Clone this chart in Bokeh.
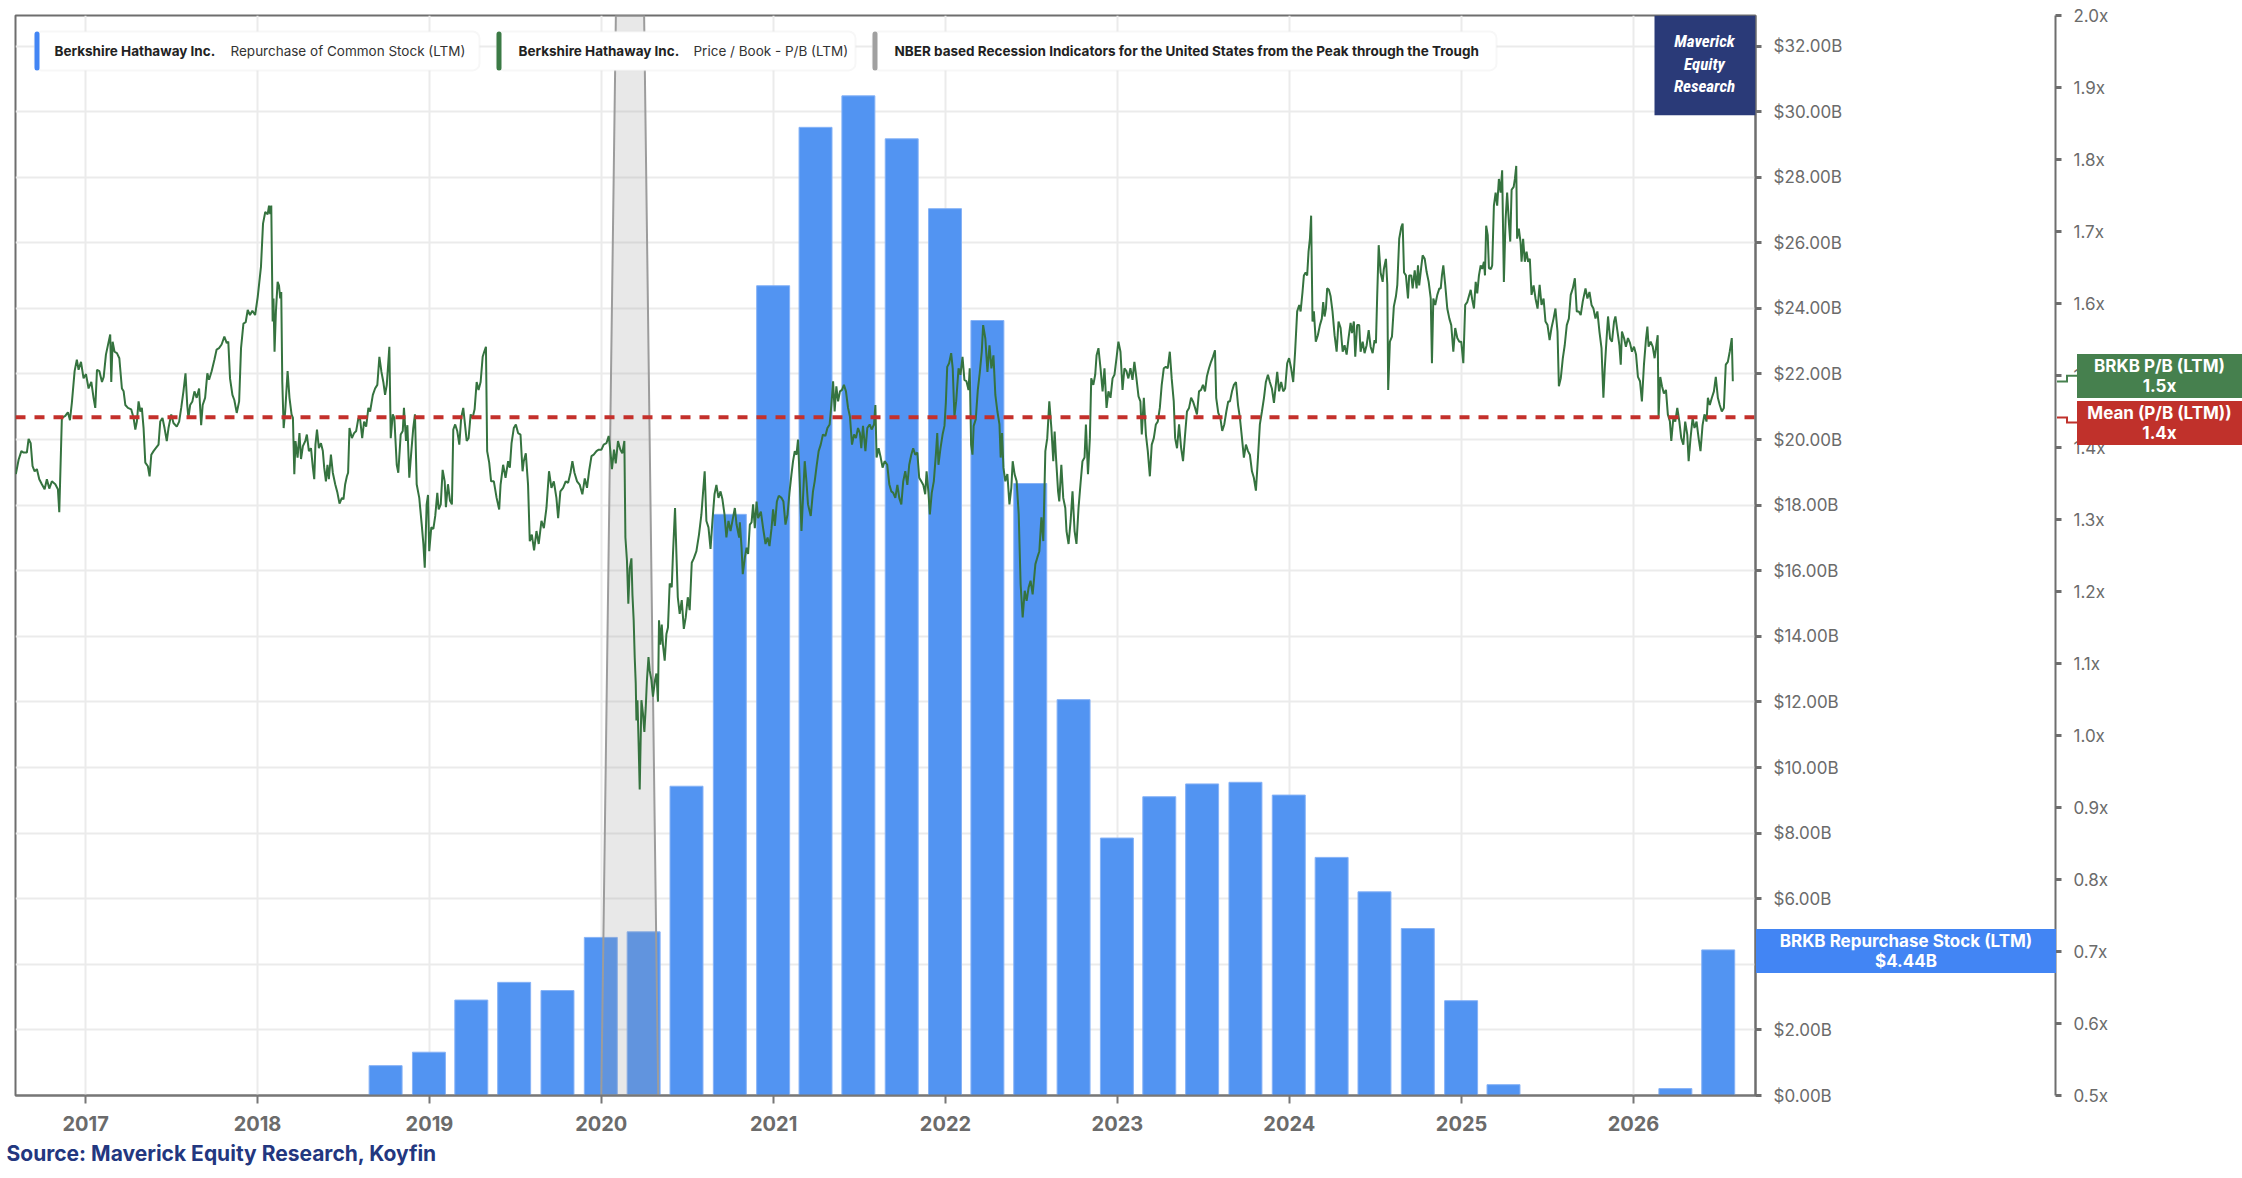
import numpy as np
import pandas as pd
from bokeh.plotting import figure
from bokeh.models import (Range1d, LinearAxis, FixedTicker, PrintfTickFormatter,
                          DatetimeTickFormatter, BoxAnnotation, Label, Title, GridBox, Div)
from bokeh.embed import file_html
from bokeh.resources import INLINE

# LTM repurchase of common stock, $B, per quarter end
quarter_ends = ["2018-09-30", "2018-12-31", "2019-03-31", "2019-06-30", "2019-09-30", "2019-12-31",
                "2020-03-31", "2020-06-30", "2020-09-30", "2020-12-31", "2021-03-31", "2021-06-30",
                "2021-09-30", "2021-12-31", "2022-03-31", "2022-06-30", "2022-09-30", "2022-12-31",
                "2023-03-31", "2023-06-30", "2023-09-30", "2023-12-31", "2024-03-31", "2024-06-30",
                "2024-09-30", "2024-12-31", "2025-03-31", "2025-06-30", "2025-09-30", "2025-12-31",
                "2026-03-31", "2026-06-30"]
repurchase_b = [0.91, 1.32, 2.91, 3.45, 3.20, 4.82,
                4.99, 9.43, 17.72, 24.69, 29.52, 30.48,
                29.17, 27.04, 23.63, 18.66, 12.07, 7.85,
                9.11, 9.50, 9.55, 9.16, 7.26, 6.21,
                5.09, 2.89, 0.33, 0.0, 0.0, 0.0,
                0.21, 4.44]

# Price / Book (LTM): (decimal year, ratio)
pb_series = [
    (2016.595, 1.363), (2016.611, 1.383), (2016.627, 1.395), (2016.640, 1.393), (2016.659, 1.393), (2016.669, 1.412),
    (2016.681, 1.406), (2016.692, 1.374), (2016.704, 1.367), (2016.717, 1.370), (2016.731, 1.356), (2016.746, 1.349),
    (2016.762, 1.342), (2016.775, 1.356), (2016.789, 1.343), (2016.804, 1.353), (2016.824, 1.349), (2016.839, 1.342),
    (2016.847, 1.310), (2016.862, 1.441), (2016.882, 1.444), (2016.897, 1.449), (2016.909, 1.438), (2016.920, 1.462),
    (2016.936, 1.506), (2016.949, 1.522), (2016.959, 1.508), (2016.973, 1.519), (2016.988, 1.496), (2017.002, 1.502),
    (2017.017, 1.482), (2017.033, 1.491), (2017.046, 1.469), (2017.056, 1.455), (2017.066, 1.508), (2017.080, 1.506),
    (2017.095, 1.491), (2017.105, 1.498), (2017.118, 1.529), (2017.134, 1.547), (2017.143, 1.557), (2017.149, 1.491),
    (2017.157, 1.547), (2017.168, 1.533), (2017.182, 1.531), (2017.196, 1.524), (2017.211, 1.482), (2017.221, 1.478),
    (2017.231, 1.459), (2017.246, 1.455), (2017.265, 1.453), (2017.279, 1.441), (2017.289, 1.425), (2017.298, 1.436),
    (2017.308, 1.464), (2017.318, 1.450), (2017.327, 1.455), (2017.337, 1.427), (2017.347, 1.379), (2017.362, 1.374),
    (2017.372, 1.360), (2017.382, 1.390), (2017.395, 1.395), (2017.408, 1.399), (2017.424, 1.404), (2017.434, 1.436),
    (2017.447, 1.441), (2017.459, 1.427), (2017.472, 1.409), (2017.482, 1.427), (2017.498, 1.446), (2017.511, 1.434),
    (2017.530, 1.429), (2017.544, 1.436), (2017.556, 1.455), (2017.569, 1.478), (2017.581, 1.503), (2017.591, 1.459),
    (2017.598, 1.441), (2017.608, 1.459), (2017.621, 1.464), (2017.633, 1.478), (2017.646, 1.469), (2017.660, 1.482),
    (2017.672, 1.431), (2017.681, 1.459), (2017.695, 1.469), (2017.708, 1.503), (2017.718, 1.494), (2017.733, 1.506),
    (2017.749, 1.522), (2017.762, 1.536), (2017.776, 1.538), (2017.791, 1.543), (2017.807, 1.554), (2017.821, 1.545),
    (2017.830, 1.547), (2017.840, 1.496), (2017.854, 1.473), (2017.865, 1.466), (2017.879, 1.448), (2017.893, 1.464),
    (2017.904, 1.538), (2017.918, 1.572), (2017.931, 1.574), (2017.943, 1.591), (2017.956, 1.584), (2017.970, 1.590),
    (2017.986, 1.584), (2018.001, 1.609), (2018.020, 1.651), (2018.032, 1.711), (2018.045, 1.727), (2018.059, 1.724),
    (2018.067, 1.736), (2018.074, 1.724), (2018.080, 1.736), (2018.088, 1.575), (2018.093, 1.607), (2018.099, 1.533),
    (2018.107, 1.589), (2018.117, 1.630), (2018.125, 1.625), (2018.132, 1.607), (2018.138, 1.616), (2018.144, 1.492),
    (2018.152, 1.427), (2018.161, 1.450), (2018.175, 1.506), (2018.186, 1.469), (2018.198, 1.446), (2018.206, 1.441),
    (2018.214, 1.363), (2018.221, 1.409), (2018.233, 1.386), (2018.244, 1.420), (2018.253, 1.384), (2018.264, 1.402),
    (2018.278, 1.409), (2018.287, 1.418), (2018.299, 1.395), (2018.311, 1.399), (2018.322, 1.372), (2018.330, 1.356),
    (2018.337, 1.404), (2018.346, 1.425), (2018.357, 1.399), (2018.369, 1.406), (2018.380, 1.395), (2018.388, 1.372),
    (2018.398, 1.353), (2018.407, 1.376), (2018.415, 1.356), (2018.427, 1.390), (2018.438, 1.365), (2018.452, 1.349),
    (2018.465, 1.337), (2018.477, 1.322), (2018.491, 1.330), (2018.500, 1.328), (2018.510, 1.349), (2018.520, 1.360),
    (2018.527, 1.365), (2018.535, 1.427), (2018.549, 1.413), (2018.562, 1.420), (2018.574, 1.423), (2018.587, 1.441),
    (2018.597, 1.439), (2018.609, 1.413), (2018.620, 1.436), (2018.632, 1.429), (2018.645, 1.455), (2018.655, 1.450),
    (2018.671, 1.473), (2018.684, 1.482), (2018.697, 1.487), (2018.709, 1.526), (2018.721, 1.505), (2018.732, 1.491),
    (2018.742, 1.473), (2018.752, 1.487), (2018.767, 1.540), (2018.775, 1.413), (2018.787, 1.446), (2018.796, 1.441),
    (2018.810, 1.376), (2018.819, 1.365), (2018.833, 1.418), (2018.845, 1.423), (2018.852, 1.455), (2018.864, 1.409),
    (2018.872, 1.431), (2018.883, 1.358), (2018.895, 1.395), (2018.906, 1.427), (2018.916, 1.446), (2018.926, 1.349),
    (2018.941, 1.330), (2018.955, 1.294), (2018.965, 1.266), (2018.973, 1.233), (2018.984, 1.321), (2018.992, 1.334),
    (2018.999, 1.256), (2019.011, 1.289), (2019.023, 1.287), (2019.034, 1.305), (2019.046, 1.337), (2019.054, 1.314),
    (2019.066, 1.321), (2019.077, 1.369), (2019.089, 1.353), (2019.096, 1.317), (2019.108, 1.349), (2019.120, 1.326),
    (2019.131, 1.321), (2019.139, 1.425), (2019.150, 1.432), (2019.162, 1.423), (2019.174, 1.404), (2019.185, 1.441),
    (2019.197, 1.455), (2019.207, 1.432), (2019.217, 1.409), (2019.228, 1.413), (2019.240, 1.446), (2019.251, 1.441),
    (2019.263, 1.453), (2019.275, 1.491), (2019.286, 1.480), (2019.298, 1.491), (2019.310, 1.526), (2019.319, 1.533),
    (2019.329, 1.540), (2019.336, 1.395), (2019.348, 1.379), (2019.359, 1.353), (2019.375, 1.353), (2019.391, 1.330),
    (2019.406, 1.314), (2019.414, 1.348), (2019.429, 1.376), (2019.443, 1.358), (2019.458, 1.381), (2019.468, 1.372),
    (2019.478, 1.406), (2019.491, 1.427), (2019.503, 1.432), (2019.516, 1.420), (2019.530, 1.418), (2019.542, 1.367),
    (2019.549, 1.381), (2019.561, 1.392), (2019.574, 1.348), (2019.584, 1.270), (2019.596, 1.279), (2019.609, 1.257),
    (2019.623, 1.284), (2019.636, 1.266), (2019.652, 1.298), (2019.666, 1.288), (2019.681, 1.316), (2019.696, 1.367),
    (2019.710, 1.344), (2019.724, 1.353), (2019.739, 1.330), (2019.749, 1.302), (2019.762, 1.339), (2019.778, 1.344),
    (2019.793, 1.353), (2019.807, 1.351), (2019.821, 1.365), (2019.832, 1.381), (2019.844, 1.365), (2019.859, 1.353),
    (2019.875, 1.348), (2019.890, 1.335), (2019.904, 1.357), (2019.917, 1.344), (2019.929, 1.367), (2019.943, 1.388),
    (2019.956, 1.390), (2019.972, 1.395), (2019.985, 1.397), (2020.001, 1.397), (2020.014, 1.404), (2020.030, 1.406),
    (2020.043, 1.416), (2020.053, 1.395), (2020.062, 1.370), (2020.074, 1.397), (2020.084, 1.378), (2020.097, 1.409),
    (2020.111, 1.397), (2020.122, 1.392), (2020.134, 1.409), (2020.140, 1.275), (2020.149, 1.243), (2020.157, 1.183),
    (2020.165, 1.232), (2020.175, 1.246), (2020.181, 1.195), (2020.188, 1.160), (2020.194, 1.109), (2020.200, 1.072),
    (2020.204, 1.021), (2020.210, 1.049), (2020.217, 0.985), (2020.223, 0.925), (2020.233, 1.049), (2020.242, 1.030),
    (2020.250, 1.005), (2020.258, 1.039), (2020.265, 1.077), (2020.274, 1.109), (2020.281, 1.090), (2020.291, 1.077),
    (2020.300, 1.054), (2020.312, 1.077), (2020.320, 1.086), (2020.329, 1.047), (2020.335, 1.160), (2020.343, 1.126),
    (2020.351, 1.154), (2020.358, 1.126), (2020.368, 1.104), (2020.378, 1.141), (2020.387, 1.150), (2020.397, 1.211),
    (2020.409, 1.206), (2020.416, 1.252), (2020.428, 1.316), (2020.436, 1.252), (2020.444, 1.192), (2020.455, 1.169),
    (2020.467, 1.188), (2020.479, 1.148), (2020.490, 1.164), (2020.502, 1.192), (2020.513, 1.174), (2020.525, 1.240),
    (2020.537, 1.246), (2020.552, 1.256), (2020.567, 1.279), (2020.581, 1.307), (2020.591, 1.339), (2020.600, 1.367),
    (2020.610, 1.298), (2020.622, 1.289), (2020.634, 1.259), (2020.645, 1.298), (2020.657, 1.335), (2020.668, 1.348),
    (2020.680, 1.330), (2020.692, 1.339), (2020.703, 1.328), (2020.715, 1.307), (2020.726, 1.275), (2020.738, 1.298),
    (2020.750, 1.284), (2020.761, 1.298), (2020.775, 1.316), (2020.785, 1.293), (2020.800, 1.275), (2020.804, 1.296),
    (2020.814, 1.261), (2020.821, 1.224), (2020.833, 1.247), (2020.843, 1.261), (2020.852, 1.252), (2020.862, 1.293),
    (2020.872, 1.296), (2020.881, 1.321), (2020.891, 1.288), (2020.901, 1.325), (2020.910, 1.302), (2020.926, 1.311),
    (2020.939, 1.288), (2020.953, 1.266), (2020.965, 1.275), (2020.976, 1.263), (2020.988, 1.288), (2020.997, 1.314),
    (2021.007, 1.291), (2021.019, 1.325), (2021.030, 1.333), (2021.046, 1.330), (2021.057, 1.325), (2021.069, 1.293),
    (2021.081, 1.307), (2021.092, 1.337), (2021.104, 1.363), (2021.113, 1.381), (2021.123, 1.395), (2021.133, 1.390),
    (2021.142, 1.411), (2021.152, 1.353), (2021.162, 1.284), (2021.171, 1.330), (2021.181, 1.381), (2021.191, 1.353),
    (2021.200, 1.321), (2021.216, 1.305), (2021.229, 1.339), (2021.239, 1.353), (2021.251, 1.376), (2021.262, 1.395),
    (2021.274, 1.404), (2021.287, 1.418), (2021.301, 1.416), (2021.313, 1.427), (2021.326, 1.432), (2021.336, 1.459),
    (2021.346, 1.492), (2021.355, 1.450), (2021.365, 1.485), (2021.375, 1.464), (2021.386, 1.478), (2021.398, 1.480),
    (2021.409, 1.487), (2021.421, 1.478), (2021.433, 1.455), (2021.444, 1.443), (2021.456, 1.404), (2021.468, 1.418),
    (2021.479, 1.413), (2021.491, 1.427), (2021.502, 1.420), (2021.510, 1.399), (2021.520, 1.430), (2021.534, 1.395),
    (2021.545, 1.427), (2021.559, 1.432), (2021.570, 1.425), (2021.584, 1.432), (2021.592, 1.459), (2021.599, 1.386),
    (2021.611, 1.399), (2021.623, 1.386), (2021.634, 1.372), (2021.646, 1.381), (2021.661, 1.376), (2021.673, 1.349),
    (2021.685, 1.339), (2021.696, 1.337), (2021.708, 1.330), (2021.720, 1.348), (2021.731, 1.330), (2021.743, 1.321),
    (2021.754, 1.353), (2021.766, 1.367), (2021.778, 1.348), (2021.789, 1.376), (2021.801, 1.390), (2021.812, 1.399),
    (2021.824, 1.390), (2021.836, 1.393), (2021.847, 1.358), (2021.859, 1.353), (2021.871, 1.348), (2021.882, 1.335),
    (2021.890, 1.367), (2021.901, 1.337), (2021.909, 1.307), (2021.920, 1.337), (2021.932, 1.353), (2021.944, 1.390),
    (2021.952, 1.420), (2021.959, 1.376), (2021.971, 1.399), (2021.983, 1.418), (2021.994, 1.430), (2022.002, 1.462),
    (2022.010, 1.512), (2022.021, 1.517), (2022.033, 1.531), (2022.042, 1.510), (2022.052, 1.443), (2022.062, 1.464),
    (2022.076, 1.510), (2022.087, 1.501), (2022.099, 1.526), (2022.110, 1.494), (2022.122, 1.492), (2022.134, 1.480),
    (2022.141, 1.510), (2022.149, 1.404), (2022.157, 1.390), (2022.164, 1.430), (2022.176, 1.439), (2022.188, 1.480),
    (2022.199, 1.503), (2022.211, 1.533), (2022.219, 1.570), (2022.232, 1.551), (2022.244, 1.505), (2022.256, 1.542),
    (2022.267, 1.510), (2022.279, 1.528), (2022.290, 1.473), (2022.302, 1.450), (2022.314, 1.432), (2022.321, 1.386),
    (2022.329, 1.420), (2022.337, 1.372), (2022.348, 1.353), (2022.360, 1.363), (2022.372, 1.321), (2022.383, 1.344),
    (2022.391, 1.381), (2022.402, 1.363), (2022.414, 1.353), (2022.426, 1.307), (2022.437, 1.210), (2022.449, 1.164),
    (2022.461, 1.201), (2022.472, 1.187), (2022.484, 1.206), (2022.495, 1.215), (2022.507, 1.196), (2022.523, 1.238),
    (2022.534, 1.247), (2022.546, 1.256), (2022.558, 1.303), (2022.569, 1.270), (2022.581, 1.395), (2022.592, 1.413),
    (2022.604, 1.464), (2022.616, 1.427), (2022.627, 1.381), (2022.635, 1.422), (2022.643, 1.386), (2022.655, 1.339),
    (2022.662, 1.325), (2022.674, 1.376), (2022.685, 1.330), (2022.697, 1.316), (2022.704, 1.284), (2022.716, 1.266),
    (2022.728, 1.298), (2022.739, 1.339), (2022.751, 1.284), (2022.762, 1.266), (2022.774, 1.316), (2022.786, 1.351),
    (2022.797, 1.381), (2022.809, 1.386), (2022.817, 1.432), (2022.829, 1.363), (2022.840, 1.413), (2022.848, 1.496),
    (2022.860, 1.487), (2022.871, 1.501), (2022.879, 1.528), (2022.890, 1.538), (2022.902, 1.510), (2022.914, 1.478),
    (2022.925, 1.510), (2022.937, 1.455), (2022.948, 1.478), (2022.960, 1.469), (2022.972, 1.496), (2022.983, 1.501),
    (2022.995, 1.524), (2023.006, 1.547), (2023.018, 1.533), (2023.030, 1.480), (2023.041, 1.510), (2023.053, 1.506),
    (2023.064, 1.496), (2023.076, 1.510), (2023.088, 1.494), (2023.099, 1.519), (2023.111, 1.496), (2023.123, 1.471),
    (2023.134, 1.464), (2023.142, 1.418), (2023.154, 1.469), (2023.166, 1.418), (2023.177, 1.395), (2023.189, 1.360),
    (2023.200, 1.404), (2023.212, 1.413), (2023.224, 1.432), (2023.235, 1.436), (2023.247, 1.455), (2023.258, 1.487),
    (2023.270, 1.510), (2023.282, 1.512), (2023.293, 1.510), (2023.305, 1.533), (2023.316, 1.496), (2023.328, 1.464),
    (2023.336, 1.413), (2023.347, 1.399), (2023.359, 1.432), (2023.371, 1.399), (2023.382, 1.381), (2023.394, 1.418),
    (2023.405, 1.450), (2023.417, 1.455), (2023.429, 1.469), (2023.440, 1.464), (2023.452, 1.455), (2023.463, 1.446),
    (2023.475, 1.478), (2023.487, 1.480), (2023.498, 1.487), (2023.510, 1.478), (2023.521, 1.499), (2023.533, 1.510),
    (2023.545, 1.519), (2023.556, 1.526), (2023.568, 1.535), (2023.575, 1.469), (2023.587, 1.448), (2023.599, 1.441),
    (2023.610, 1.423), (2023.622, 1.432), (2023.634, 1.450), (2023.645, 1.464), (2023.655, 1.464), (2023.667, 1.478),
    (2023.678, 1.487), (2023.690, 1.491), (2023.702, 1.459), (2023.713, 1.441), (2023.725, 1.413), (2023.736, 1.386),
    (2023.748, 1.404), (2023.760, 1.395), (2023.771, 1.390), (2023.783, 1.367), (2023.794, 1.358), (2023.806, 1.340),
    (2023.818, 1.386), (2023.829, 1.432), (2023.841, 1.450), (2023.853, 1.469), (2023.864, 1.491), (2023.876, 1.501),
    (2023.887, 1.491), (2023.899, 1.482), (2023.911, 1.462), (2023.922, 1.487), (2023.930, 1.505), (2023.941, 1.478),
    (2023.953, 1.491), (2023.965, 1.478), (2023.976, 1.482), (2023.988, 1.517), (2023.999, 1.524), (2024.011, 1.510),
    (2024.023, 1.491), (2024.034, 1.533), (2024.046, 1.589), (2024.058, 1.598), (2024.066, 1.589), (2024.077, 1.616),
    (2024.085, 1.639), (2024.095, 1.643), (2024.104, 1.639), (2024.112, 1.672), (2024.120, 1.690), (2024.127, 1.722),
    (2024.135, 1.575), (2024.143, 1.589), (2024.154, 1.547), (2024.166, 1.556), (2024.178, 1.570), (2024.189, 1.579),
    (2024.197, 1.602), (2024.205, 1.582), (2024.213, 1.593), (2024.220, 1.621), (2024.230, 1.619), (2024.240, 1.610),
    (2024.251, 1.589), (2024.263, 1.556), (2024.275, 1.533), (2024.286, 1.575), (2024.298, 1.566), (2024.310, 1.533),
    (2024.321, 1.542), (2024.333, 1.529), (2024.344, 1.552), (2024.356, 1.573), (2024.364, 1.559), (2024.375, 1.575),
    (2024.383, 1.526), (2024.394, 1.570), (2024.406, 1.570), (2024.414, 1.533), (2024.426, 1.547), (2024.437, 1.531),
    (2024.449, 1.542), (2024.461, 1.563), (2024.472, 1.540), (2024.484, 1.531), (2024.495, 1.549), (2024.503, 1.545),
    (2024.510, 1.608), (2024.519, 1.681), (2024.530, 1.643), (2024.542, 1.630), (2024.549, 1.648), (2024.561, 1.662),
    (2024.569, 1.626), (2024.574, 1.480), (2024.584, 1.547), (2024.596, 1.554), (2024.607, 1.596), (2024.619, 1.610),
    (2024.627, 1.626), (2024.638, 1.690), (2024.650, 1.706), (2024.658, 1.711), (2024.666, 1.643), (2024.677, 1.639),
    (2024.689, 1.607), (2024.696, 1.639), (2024.708, 1.639), (2024.716, 1.621), (2024.728, 1.646), (2024.739, 1.621),
    (2024.747, 1.653), (2024.754, 1.625), (2024.766, 1.651), (2024.774, 1.667), (2024.786, 1.662), (2024.797, 1.644),
    (2024.809, 1.630), (2024.821, 1.607), (2024.828, 1.517), (2024.836, 1.607), (2024.847, 1.598), (2024.859, 1.612),
    (2024.871, 1.621), (2024.879, 1.621), (2024.886, 1.639), (2024.894, 1.653), (2024.905, 1.626), (2024.917, 1.593),
    (2024.929, 1.579), (2024.940, 1.570), (2024.952, 1.533), (2024.963, 1.566), (2024.975, 1.552), (2024.987, 1.547),
    (2024.998, 1.547), (2025.010, 1.517), (2025.021, 1.598), (2025.033, 1.602), (2025.053, 1.619), (2025.062, 1.605),
    (2025.072, 1.593), (2025.082, 1.630), (2025.091, 1.614), (2025.101, 1.639), (2025.111, 1.653), (2025.120, 1.648),
    (2025.130, 1.658), (2025.136, 1.639), (2025.143, 1.708), (2025.152, 1.695), (2025.159, 1.649), (2025.171, 1.648),
    (2025.178, 1.653), (2025.188, 1.736), (2025.198, 1.754), (2025.207, 1.736), (2025.217, 1.773), (2025.227, 1.754),
    (2025.236, 1.785), (2025.246, 1.630), (2025.256, 1.717), (2025.265, 1.754), (2025.275, 1.713), (2025.283, 1.686),
    (2025.291, 1.758), (2025.303, 1.762), (2025.310, 1.773), (2025.318, 1.791), (2025.323, 1.690), (2025.333, 1.704),
    (2025.343, 1.685), (2025.349, 1.658), (2025.358, 1.690), (2025.368, 1.658), (2025.378, 1.672), (2025.387, 1.658),
    (2025.397, 1.662), (2025.407, 1.612), (2025.419, 1.625), (2025.430, 1.607), (2025.442, 1.593), (2025.454, 1.626),
    (2025.465, 1.598), (2025.477, 1.607), (2025.488, 1.575), (2025.500, 1.570), (2025.512, 1.549), (2025.523, 1.566),
    (2025.535, 1.579), (2025.546, 1.593), (2025.558, 1.561), (2025.566, 1.485), (2025.577, 1.496), (2025.589, 1.524),
    (2025.600, 1.542), (2025.612, 1.570), (2025.624, 1.579), (2025.635, 1.612), (2025.647, 1.621), (2025.659, 1.635),
    (2025.670, 1.589), (2025.682, 1.589), (2025.693, 1.584), (2025.705, 1.603), (2025.721, 1.621), (2025.732, 1.607),
    (2025.744, 1.616), (2025.756, 1.598), (2025.767, 1.593), (2025.779, 1.579), (2025.790, 1.589), (2025.802, 1.561),
    (2025.814, 1.538), (2025.825, 1.469), (2025.833, 1.510), (2025.840, 1.538), (2025.852, 1.582), (2025.864, 1.551),
    (2025.875, 1.547), (2025.887, 1.575), (2025.895, 1.582), (2025.907, 1.561), (2025.918, 1.542), (2025.926, 1.515),
    (2025.933, 1.561), (2025.945, 1.552), (2025.956, 1.540), (2025.968, 1.552), (2025.980, 1.545), (2025.991, 1.533),
    (2026.003, 1.540), (2026.015, 1.529), (2026.026, 1.498), (2026.038, 1.492), (2026.049, 1.464), (2026.061, 1.515),
    (2026.073, 1.551), (2026.081, 1.568), (2026.088, 1.540), (2026.100, 1.547), (2026.112, 1.540), (2026.123, 1.524),
    (2026.133, 1.542), (2026.141, 1.556), (2026.146, 1.441), (2026.156, 1.498), (2026.166, 1.485), (2026.177, 1.475),
    (2026.189, 1.480), (2026.200, 1.446), (2026.212, 1.436), (2026.220, 1.409), (2026.232, 1.441), (2026.243, 1.436),
    (2026.255, 1.455), (2026.267, 1.436), (2026.278, 1.413), (2026.290, 1.404), (2026.301, 1.436), (2026.313, 1.418),
    (2026.321, 1.381), (2026.332, 1.413), (2026.344, 1.441), (2026.355, 1.427), (2026.367, 1.436), (2026.379, 1.413),
    (2026.390, 1.395), (2026.402, 1.431), (2026.413, 1.446), (2026.425, 1.436), (2026.433, 1.469), (2026.444, 1.459),
    (2026.456, 1.469), (2026.468, 1.478), (2026.479, 1.498), (2026.491, 1.469), (2026.502, 1.459), (2026.514, 1.450),
    (2026.526, 1.455), (2026.537, 1.515), (2026.549, 1.519), (2026.560, 1.533), (2026.572, 1.552), (2026.578, 1.492),
]
pb_mean = 1.442
pb_last = 1.5

# NBER recession indicator (monthly)
rec_months = ["2020-01-01", "2020-02-01", "2020-03-01", "2020-04-01", "2020-05-01"]
rec_flag = [0, 1, 1, 1, 0]

year_ticks = list(range(2017, 2027))
usd_ticks = list(range(0, 34, 2))
ratio_ticks = [0.5, 0.6, 0.7, 0.8, 0.9, 1.0, 1.1, 1.2, 1.3, 1.4, 1.5, 1.6, 1.7, 1.8, 1.9, 2.0]

legend_items = [
    ("Berkshire Hathaway Inc.", "Repurchase of Common Stock (LTM)", "#4285f4"),
    ("Berkshire Hathaway Inc.", "Price / Book - P/B (LTM)", "#3b7a45"),
    ("NBER based Recession Indicators for the United States from the Peak through the Trough", "", "#a0a0a0"),
]


def dec_year(d):
    y = int(np.floor(d))
    a = pd.Timestamp(year=y, month=1, day=1)
    b = pd.Timestamp(year=y + 1, month=1, day=1)
    return a + (b - a) * (d - y)


x_start = dec_year(2016.593)
x_end = dec_year(2026.71)
usd_top = 32.93
pb_lo, pb_hi = 0.5, 2.0

W, H = 2234, 1170
# plot frame in canvas pixels, used only to place the overlay boxes
FL, FR, FT, FB = 15, 1755, 15, 1097
x0_ms = x_start.value / 1e6
x1_ms = x_end.value / 1e6


def sx(px):
    return x0_ms + (px - FL) * (x1_ms - x0_ms) / (FR - FL)


def sy(py):
    return usd_top * (FB - py) / (FB - FT)


def py_usd(v):
    return FB - v / usd_top * (FB - FT)


def py_pb(v):
    return FB - (v - pb_lo) / (pb_hi - pb_lo) * (FB - FT)


NARROW = "Liberation Sans Narrow, Roboto Condensed, Roboto"
GRAY_TXT = "#6b6b6b"

p = figure(width=W, height=H, x_axis_type="datetime", y_axis_location="right",
           x_range=Range1d(x_start, x_end), y_range=Range1d(0, usd_top),
           output_backend="svg", toolbar_location=None,
           min_border_left=FL, min_border_top=FT, min_border_right=W - FR, min_border_bottom=0)
p.extra_y_ranges = {"pb": Range1d(pb_lo, pb_hi), "rec": Range1d(0, 1)}
p.background_fill_color = "white"
p.border_fill_color = "white"
p.outline_line_color = "#6e6e6e"
p.outline_line_width = 2

# bars: LTM buybacks
p.vbar(x=pd.to_datetime(quarter_ends), top=repurchase_b, width=70 * 86400000,
       fill_color="#5294f2", line_color="#86b2f6", line_width=1)

# recession band
p.patch(pd.to_datetime(rec_months), rec_flag, y_range_name="rec",
        fill_color="#969696", fill_alpha=0.22, line_color="#9c9c9c", line_width=2)

# P/B line and its mean
pb_dates = [dec_year(t) for t, v in pb_series]
pb_vals = [v for t, v in pb_series]
p.line(pb_dates, pb_vals, y_range_name="pb", line_color="#35733f", line_width=2)
p.line([x_start, x_end], [pb_mean, pb_mean], y_range_name="pb",
       line_color="#c4302b", line_width=4, line_dash="10 9")

# x axis: years
year_ms = [pd.Timestamp(year=y, month=1, day=1).value / 1e6 for y in year_ticks]
p.xaxis.ticker = FixedTicker(ticks=year_ms)
p.xaxis.formatter = DatetimeTickFormatter(years="%Y", months="%Y", days="%Y")
p.xaxis.major_label_text_font = "Inter"
p.xaxis.major_label_text_font_style = "bold"
p.xaxis.major_label_text_font_size = "20px"
p.xaxis.major_label_text_color = GRAY_TXT
p.xaxis.axis_line_color = "#777777"
p.xaxis.axis_line_width = 2
p.xaxis.major_tick_line_color = "#777777"
p.xaxis.major_tick_line_width = 2
p.xaxis.major_tick_in = 0
p.xaxis.major_tick_out = 8
p.xaxis.minor_tick_line_color = None
p.xaxis.major_label_standoff = 12

# $ axis (primary, right of frame) and P/B axis further out
usd_axis = p.yaxis[0]
usd_axis.ticker = FixedTicker(ticks=usd_ticks)
usd_axis.formatter = PrintfTickFormatter(format="$%.2fB")
ratio_axis = LinearAxis(y_range_name="pb", ticker=FixedTicker(ticks=ratio_ticks),
                        formatter=PrintfTickFormatter(format="%.1fx"))
p.add_layout(ratio_axis, "right")
for ax in (usd_axis, ratio_axis):
    ax.major_label_text_font = "Inter"
    ax.major_label_text_font_size = "17px"
    ax.major_label_text_color = GRAY_TXT
    ax.axis_line_color = "#6e6e6e"
    ax.axis_line_width = 2
    ax.major_tick_line_color = "#6e6e6e"
    ax.major_tick_line_width = 3
    ax.major_tick_in = 0
    ax.major_tick_out = 6
    ax.minor_tick_line_color = None
    ax.major_label_standoff = 12
# spacer so the ratio axis sits well away from the $ labels
usd_axis.axis_label = " "
usd_axis.axis_label_text_font_size = "1px"
usd_axis.axis_label_standoff = 206

p.xgrid.ticker = FixedTicker(ticks=year_ms)
p.ygrid.ticker = FixedTicker(ticks=usd_ticks)
p.grid.grid_line_color = "#ebebeb"
p.grid.grid_line_width = 2

# legend chips
chips = [(34, 479, 54, 230), (496, 855, 518, 693), (872, 1496, 894, None)]
for (left, right, tx, tx2), (bold, regular, col) in zip(chips, legend_items):
    p.add_layout(BoxAnnotation(left=sx(left), right=sx(right), top=sy(31), bottom=sy(70),
                               fill_color="white", fill_alpha=1.0, line_color="#e3e3e3",
                               line_width=2, border_radius=7))
    p.add_layout(BoxAnnotation(left=sx(left), right=sx(left + 5), top=sy(31), bottom=sy(70),
                               fill_color=col, fill_alpha=1.0, line_color=None, border_radius=3))
    p.add_layout(Label(x=sx(tx), y=sy(51), text=bold, text_font="Inter", text_font_style="bold",
                       text_font_size="13.5px", text_color="#222222", text_baseline="middle"))
    if tx2 is not None:
        p.add_layout(Label(x=sx(tx2), y=sy(51), text=regular, text_font="Inter",
                           text_font_size="13.5px", text_color="#333333", text_baseline="middle"))

# Maverick badge
p.add_layout(BoxAnnotation(left=sx(1654), right=sx(1755), top=sy(15), bottom=sy(115),
                           fill_color="#2a3a78", fill_alpha=1.0, line_color=None))
for word, py in zip(["Maverick", "Equity", "Research"], [41, 64, 86]):
    p.add_layout(Label(x=sx(1704), y=sy(py), text=word, text_font=NARROW, text_font_style="bold italic",
                       text_font_size="17px", text_color="white", text_align="center",
                       text_baseline="middle"))

p.add_layout(Title(text="Source: Maverick Equity Research, Koyfin", align="left", offset=-9,
                   text_font="Inter", text_font_style="bold", text_font_size="21px",
                   text_color="#23377f", standoff=10), "below")

# value callouts beside the axes: annotations inside a figure are clipped to its frame,
# so they sit in an html layer stacked on the same grid cell as the plot
ax2 = FR + 302  # P/B axis line
y_last = py_pb(pb_vals[-1])
y_lab = py_pb(pb_last)
y_mean = py_pb(pb_mean)
y_buy = py_usd(repurchase_b[-1])


def box_html(left, yc, width, color, line1, line2):
    return ('<div style="position:absolute;left:%dpx;top:%dpx;width:%dpx;height:44px;'
            'background:%s;color:#fff;font:bold 17px Inter,Roboto,sans-serif;text-align:center;'
            'line-height:20px;padding-top:2px;box-sizing:border-box;white-space:nowrap;">'
            '%s<br>%s</div>' % (left, round(yc - 22), width, color, line1, line2))


connectors = (
    '<svg width="%d" height="%d" style="position:absolute;left:0;top:0;">'
    '<polyline points="%d,%.1f %d,%.1f %d,%.1f %d,%.1f" fill="none" stroke="#46804e" stroke-width="2"/>'
    '<polyline points="%d,%.1f %d,%.1f %d,%.1f %d,%.1f" fill="none" stroke="#c0312b" stroke-width="2"/>'
    '</svg>' % (W, H,
                ax2, y_last, ax2 + 10, y_last, ax2 + 10, y_lab, ax2 + 20, y_lab,
                ax2, y_mean, ax2 + 10, y_mean, ax2 + 10, y_mean + 5, ax2 + 20, y_mean + 5))

html = ('<div style="position:relative;width:%dpx;height:%dpx;pointer-events:none;">' % (W, H)
        + connectors
        + box_html(ax2 + 20, y_lab, 165, "#46804e", "BRKB P/B (LTM)", "%.1fx" % pb_last)
        + box_html(ax2 + 20, y_mean + 5, 165, "#c0312b", "Mean (P/B (LTM))", "%.1fx" % pb_mean)
        + box_html(FR + 1, y_buy, 300, "#4285f4", "BRKB Repurchase Stock (LTM)", "$%.2fB" % repurchase_b[-1])
        + '</div>')
overlay = Div(text=html, width=W, height=H, margin=0)

page = GridBox(children=[(p, 0, 0), (overlay, 0, 0)])
open("out.html", "w").write(file_html(page, INLINE))
